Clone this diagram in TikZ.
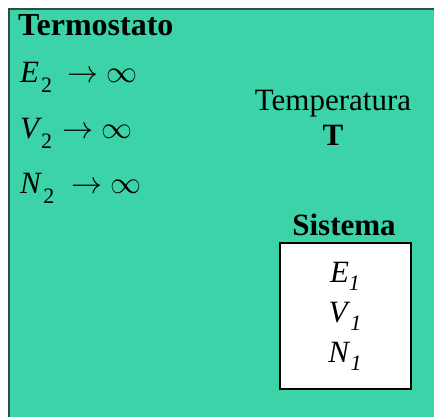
\documentclass[tikz,border=0pt]{standalone}
\usepackage{fix-cm}
\usepackage{fontspec}
\setmainfont{Liberation Serif}
\definecolor{tealbg}{RGB}{60,211,168}
\definecolor{frame}{RGB}{45,80,68}
\newcommand{\subup}[1]{\raisebox{-10pt}{\fontsize{22}{22}\selectfont #1}}
\newcommand{\subit}[1]{\raisebox{-8pt}{\fontsize{22}{22}\selectfont\itshape #1}}
\newcommand{\arrinf}[2]{\hspace{#1}$\rightarrow$\hspace{#2}$\infty$}
\tikzset{
  txt/.style={inner sep=0pt, font=\fontsize{31}{36}\selectfont},
  lim/.style={txt, anchor=base west},
}
\begin{document}
\begin{tikzpicture}[x=1pt,y=-1pt]
\useasboundingbox (0,0) rectangle (434,416);
\fill[white] (0,0) rectangle (434,416);
\clip (0,0) rectangle (434,416);
\node[draw=frame, line width=2pt, fill=tealbg, minimum width=440pt, minimum height=420pt, anchor=north west, inner sep=0pt] (termo) at (8,8) {};
\node[lim, font=\fontsize{32}{36}\selectfont\bfseries] (title) at (18,35) {Termostato};
\node[lim] (e2) at (20,82) {\textit{E}\hspace{2pt}\subup{2}\arrinf{15pt}{8pt}};
\node[lim] (v2) at (20,138) {\textit{V}\hspace{-1pt}\subup{2}\arrinf{10pt}{8pt}};
\node[lim] (n2) at (20,193) {\textit{N}\hspace{1pt}\subup{2}\arrinf{17pt}{8pt}};
\node[txt, anchor=base] (temp) at (333,110) {Temperatura};
\node[txt, anchor=base, font=\fontsize{31}{36}\selectfont\bfseries] (tt) at (333,145) {T};
\node[txt, anchor=base, font=\fontsize{31}{36}\selectfont\bfseries] (sis) at (344,235) {Sistema};
\node[draw=black, line width=1.8pt, fill=white, minimum width=131pt, minimum height=146pt, anchor=north west, inner sep=0pt] (box) at (279,242) {};
\node[txt, anchor=base] (e1) at (345,282) {\textit{E}\subit{1}};
\node[txt, anchor=base] (v1) at (345,322) {\textit{V}\subit{1}};
\node[txt, anchor=base] (n1) at (345,362) {\textit{N}\subit{1}};
\end{tikzpicture}
\end{document}
